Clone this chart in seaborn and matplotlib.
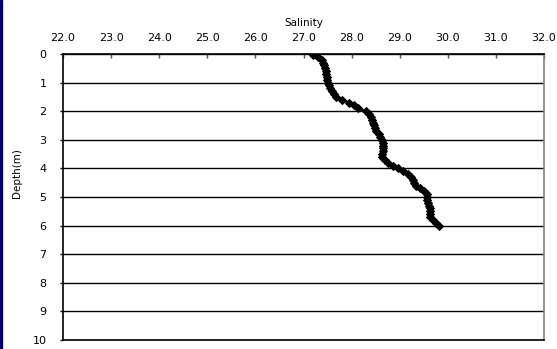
import matplotlib
matplotlib.use('Agg')
import matplotlib.pyplot as plt
import seaborn as sns
import pandas as pd
from matplotlib.patches import Rectangle
from matplotlib.ticker import FormatStrFormatter

# salinity profile
depth = [0.02, 0.1, 0.2, 0.3, 0.4, 0.5, 0.6, 0.7, 0.8, 0.9,
         1.0, 1.1, 1.2, 1.3, 1.4, 1.5, 1.6, 1.7, 1.8, 1.9,
         2.0, 2.1, 2.2, 2.3, 2.4, 2.5, 2.6, 2.7, 2.8, 2.9,
         3.0, 3.1, 3.2, 3.3, 3.4, 3.5, 3.6, 3.7, 3.8, 3.9,
         4.0, 4.1, 4.2, 4.3, 4.4, 4.5, 4.6, 4.7, 4.8, 4.9,
         5.0, 5.1, 5.2, 5.3, 5.4, 5.5, 5.6, 5.7, 5.8, 5.9, 6.03]
salinity = [27.20, 27.30, 27.38, 27.41, 27.43, 27.45, 27.46, 27.47, 27.48, 27.49,
            27.50, 27.53, 27.56, 27.59, 27.63, 27.68, 27.80, 27.95, 28.05, 28.14,
            28.30, 28.37, 28.40, 28.43, 28.45, 28.47, 28.49, 28.51, 28.56, 28.60,
            28.63, 28.65, 28.65, 28.65, 28.65, 28.64, 28.64, 28.70, 28.76, 28.86,
            28.97, 29.06, 29.18, 29.24, 29.27, 29.30, 29.34, 29.42, 29.50, 29.56,
            29.57, 29.56, 29.58, 29.61, 29.63, 29.64, 29.62, 29.64, 29.70, 29.76, 29.82]

x_ticks = [22, 23, 24, 25, 26, 27, 28, 29, 30, 31, 32]
y_ticks = list(range(0, 11))

df = pd.DataFrame({'salinity': salinity, 'depth': depth})

sns.set_style('white')
plt.rcParams['font.family'] = ['DejaVu Sans']
plt.rcParams['text.color'] = 'black'
plt.rcParams['axes.labelcolor'] = 'black'
plt.rcParams['xtick.color'] = 'black'
plt.rcParams['ytick.color'] = 'black'

fig = plt.figure(figsize=(5.57, 3.49), dpi=100)
ax = fig.add_axes([0.1131, 0.0258, 0.8636, 0.8195])

# grid lines first so the profile sits on top
for yv in y_ticks:
    ax.axhline(yv, color='black', lw=1.0, zorder=1)

sns.lineplot(data=df, x='salinity', y='depth', sort=False, estimator=None,
             color='black', lw=1.5, marker='D', markersize=4.3,
             markeredgecolor='black', ax=ax, zorder=3)

ax.set_xlim(22, 32)
ax.set_ylim(10, 0)
ax.set_xticks(x_ticks)
ax.set_yticks(y_ticks)
ax.xaxis.set_major_formatter(FormatStrFormatter('%.1f'))
ax.xaxis.tick_top()
ax.xaxis.set_label_position('top')
ax.tick_params(axis='x', direction='in', length=3, width=1, color='#555555',
               labelcolor='black', labelsize=8, pad=8, top=True, bottom=False)
ax.tick_params(axis='y', direction='out', length=2, width=1, color='black',
               labelcolor='black', labelsize=8, pad=10, left=True)

ax.set_xlabel('Salinity', fontsize=7.5, labelpad=5, color='black')
ax.set_ylabel('Depth(m)', fontsize=7.5, color='black')
ax.yaxis.set_label_coords(-0.085, 0.584)

for side in ['left', 'top', 'bottom']:
    ax.spines[side].set_color('black')
    ax.spines[side].set_linewidth(1.2)
ax.spines['right'].set_color('#808080')
ax.spines['right'].set_linewidth(1.2)

# dark blue strip on the left edge of the picture
fig.patches.append(Rectangle((0, 0), 2 / 557, 1, transform=fig.transFigure,
                             color='#000080', zorder=10))

fig.savefig('out.png', dpi=100)
